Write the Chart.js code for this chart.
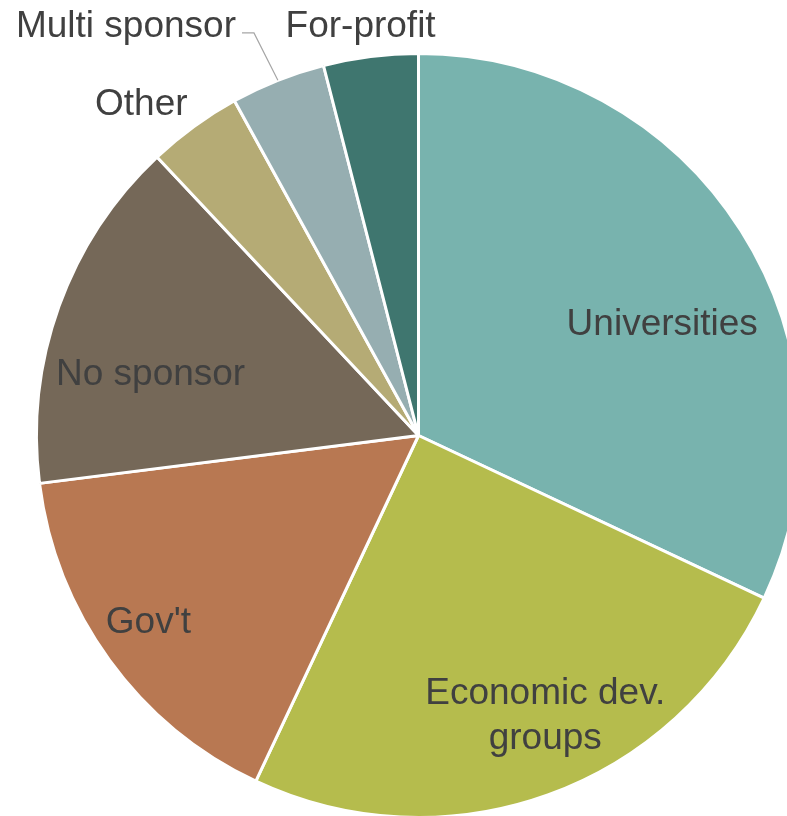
<!DOCTYPE html>
<html>
  <head>
    <title>Sponsors</title>
    <script src="https://cdn.jsdelivr.net/npm/chart.js@4/dist/chart.umd.min.js"></script>
    <style>
      html, body { margin: 0; padding: 0; background: #fff; overflow: hidden; }
      #wrap { position: absolute; left: 0; top: 0; width: 787px; height: 816px; overflow: hidden; }
      canvas { position: absolute; left: 0; top: 0; }
    </style>
  </head>
  <body>
    <div id="wrap">
      <canvas id="myChart" width="840" height="872"></canvas>
    </div>

    <script>
      var categories = ["Universities", "Economic dev. groups", "Gov't", "No sponsor", "Other", "Multi sponsor", "For-profit"];
      var shares = [32, 25, 16, 15, 4, 4, 4];
      var sliceColors = ["#78B3AE", "#B5BC4D", "#B87852", "#756858", "#B5AB75", "#96AEB1", "#3F766F"];

      // label lines, and where each label sits: angle shift from the slice middle (deg) and distance in radii
      var labelLines = [["Universities"], ["Economic dev.", "groups"], ["Gov't"], ["No sponsor"], ["Other"], ["Multi sponsor"], ["For-profit"]];
      var labelShift = [7.4, -4.7, 1.7, -6.4, -3.7, -13.8, -0.8];
      var labelDist = [0.704, 0.80, 0.856, 0.721, 1.136, 1.322, 1.089];
      var leaderFor = [false, false, false, false, false, true, false];

      var sliceLabels = {
        id: "sliceLabels",
        afterDatasetsDraw: function (chart) {
          var ctx = chart.ctx;
          var arcs = chart.getDatasetMeta(0).data;
          ctx.save();
          ctx.font = "37px 'Liberation Sans', Arial, sans-serif";
          ctx.fillStyle = "#404040";
          ctx.textAlign = "center";
          ctx.textBaseline = "middle";
          arcs.forEach(function (arc, i) {
            var p = arc.getProps(["x", "y", "startAngle", "endAngle", "outerRadius"], true);
            var mid = (p.startAngle + p.endAngle) / 2;
            var a = mid + labelShift[i] * Math.PI / 180;
            var lx = p.x + Math.cos(a) * p.outerRadius * labelDist[i];
            var ly = p.y + Math.sin(a) * p.outerRadius * labelDist[i];
            var lines = labelLines[i];
            var lh = 45;
            // "middle" sits a little high for these glyphs
            var nudge = 3;
            lines.forEach(function (t, k) {
              ctx.fillText(t, lx, ly + nudge + (k - (lines.length - 1) / 2) * lh);
            });
            if (leaderFor[i]) {
              var w = ctx.measureText(lines[0]).width;
              var right = lx + w / 2;
              var ex = p.x + Math.cos(mid) * p.outerRadius;
              var ey = p.y + Math.sin(mid) * p.outerRadius;
              ctx.strokeStyle = "#A6A6A6";
              ctx.lineWidth = 1.2;
              ctx.beginPath();
              ctx.moveTo(ex, ey);
              ctx.lineTo(right + 18, ly + 9);
              ctx.lineTo(right + 6, ly + 9);
              ctx.stroke();
            }
          });
          ctx.restore();
        }
      };

      var ctx = document.getElementById("myChart").getContext("2d");
      var myChart = new Chart(ctx, {
        type: "pie",
        data: {
          labels: categories,
          datasets: [
            {
              data: shares,
              backgroundColor: sliceColors,
              borderColor: "#ffffff",
              borderWidth: 3,
            },
          ],
        },
        options: {
          responsive: false,
          animation: false,
          layout: { padding: { left: 35, top: 51, right: 38, bottom: 52 } },
          plugins: {
            legend: { display: false },
            tooltip: { enabled: false },
          },
        },
        plugins: [sliceLabels],
      });
    </script>
  </body>
</html>
